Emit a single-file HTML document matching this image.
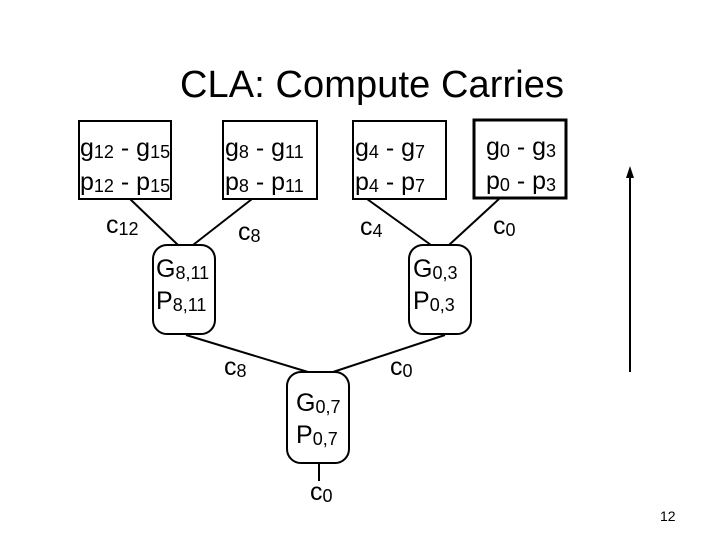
<!DOCTYPE html>
<html><head><style>body{margin:0;background:#fff}svg{display:block}</style></head><body>
<svg width="720" height="540" viewBox="0 0 720 540" xmlns="http://www.w3.org/2000/svg" font-family="Liberation Sans, Arial, sans-serif">
<rect width="720" height="540" fill="#fff"/>
<text x="372" y="97" font-family="Liberation Sans, sans-serif" font-size="38" text-anchor="middle" textLength="384">CLA: Compute Carries</text>
<g fill="none" stroke="#000" stroke-width="2">
<rect x="79" y="121" width="92" height="78"/>
<rect x="223" y="121" width="94" height="78"/>
<rect x="353" y="121" width="93" height="78"/>
<rect x="474" y="120" width="92" height="78" stroke-width="3"/>
<rect x="153" y="245" width="62" height="89" rx="14"/>
<rect x="409" y="245" width="62" height="89" rx="14"/>
<rect x="287" y="372" width="62" height="91" rx="14"/>
<path d="M130 199L178 245M252 199L193 245M367 199L431 245M499 199L449 245M186 335L308 372M445 335L333 372M319 463L319 481"/>
<path d="M630 372L630 176"/>
</g>
<path d="M630 166L626 178L634 178Z" fill="#000"/>
<g font-size="25">
<text x="80" y="156">g<tspan font-size="18" dy="2">12</tspan><tspan dy="-2"> - g</tspan><tspan font-size="18" dy="2">15</tspan></text>
<text x="80" y="190">p<tspan font-size="18" dy="2">12</tspan><tspan dy="-2"> - p</tspan><tspan font-size="18" dy="2">15</tspan></text>
<text x="225" y="156">g<tspan font-size="18" dy="2">8</tspan><tspan dy="-2"> - g</tspan><tspan font-size="18" dy="2">11</tspan></text>
<text x="225" y="190">p<tspan font-size="18" dy="2">8</tspan><tspan dy="-2"> - p</tspan><tspan font-size="18" dy="2">11</tspan></text>
<text x="355" y="156">g<tspan font-size="18" dy="2">4</tspan><tspan dy="-2"> - g</tspan><tspan font-size="18" dy="2">7</tspan></text>
<text x="355" y="190">p<tspan font-size="18" dy="2">4</tspan><tspan dy="-2"> - p</tspan><tspan font-size="18" dy="2">7</tspan></text>
<text x="486" y="155">g<tspan font-size="18" dy="2">0</tspan><tspan dy="-2"> - g</tspan><tspan font-size="18" dy="2">3</tspan></text>
<text x="486" y="189">p<tspan font-size="18" dy="2">0</tspan><tspan dy="-2"> - p</tspan><tspan font-size="18" dy="2">3</tspan></text>
<text x="106" y="233">c<tspan font-size="18" dy="2">12</tspan></text>
<text x="238" y="240">c<tspan font-size="18" dy="2">8</tspan></text>
<text x="360" y="235">c<tspan font-size="18" dy="2">4</tspan></text>
<text x="493" y="234">c<tspan font-size="18" dy="2">0</tspan></text>
<text x="156" y="277">G<tspan font-size="18" dy="2">8,11</tspan></text>
<text x="156" y="309">P<tspan font-size="18" dy="2">8,11</tspan></text>
<text x="413" y="277">G<tspan font-size="18" dy="2">0,3</tspan></text>
<text x="413" y="309">P<tspan font-size="18" dy="2">0,3</tspan></text>
<text x="224" y="375">c<tspan font-size="18" dy="2">8</tspan></text>
<text x="390" y="375">c<tspan font-size="18" dy="2">0</tspan></text>
<text x="296" y="411">G<tspan font-size="18" dy="2">0,7</tspan></text>
<text x="296" y="443">P<tspan font-size="18" dy="2">0,7</tspan></text>
<text x="310" y="500">c<tspan font-size="18" dy="2">0</tspan></text>
</g>
<text x="660" y="521" font-size="14">12</text>
</svg>
</body></html>
